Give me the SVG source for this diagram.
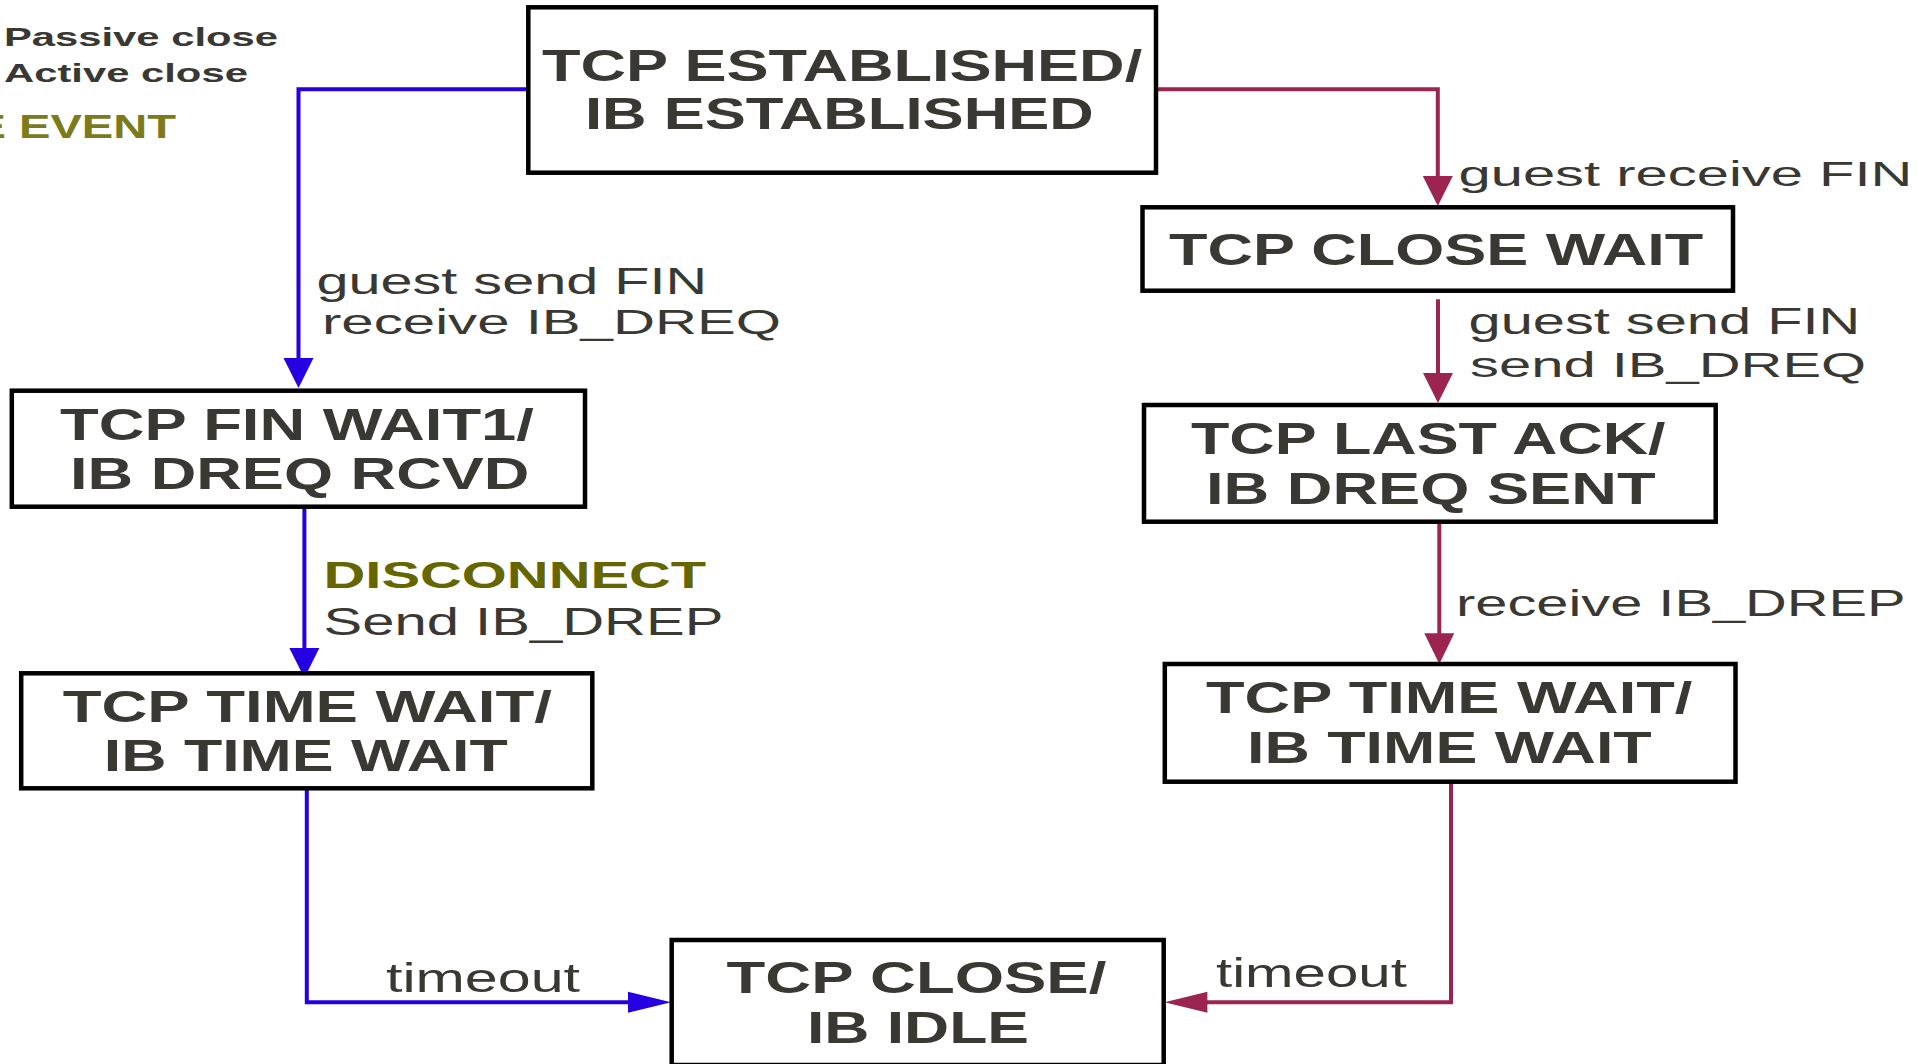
<svg xmlns="http://www.w3.org/2000/svg" width="1918" height="1064" viewBox="0 0 1918 1064">
<style>
.box{fill:#fff;stroke:#000;stroke-width:4.5}
.st{font-family:"Liberation Sans",Arial,sans-serif;font-weight:bold;font-size:44px;fill:#3a3833}
.lb{font-family:"Liberation Sans",Arial,sans-serif;font-size:36px;fill:#3a3833}
.ev{font-family:"Liberation Sans",Arial,sans-serif;font-weight:bold;font-size:37px;fill:#666600}
.lg{font-family:"Liberation Sans",Arial,sans-serif;font-weight:bold;font-size:26.5px;fill:#3a3833}
.blue{fill:none;stroke:#2600e0;stroke-width:4}
.red{fill:none;stroke:#9b2450;stroke-width:4}
.bh{fill:#2600e0}
.rh{fill:#9b2450}
</style>
<rect width="1918" height="1064" fill="#fff"/>
<g id="legend">
<text class="lg" transform="translate(4,45.7) scale(1.576,1)">Passive close</text>
<text class="lg" transform="translate(4,81.7) scale(1.577,1)">Active close</text>
<text class="lg" style="font-size:32.5px;fill:#7b7b1c" transform="translate(-25.5,138) scale(1.45,1)">E EVENT</text>
</g>
<g id="connectors">
<path class="blue" d="M528,89.3 H298.5 V360"/>
<polygon class="bh" points="283.5,358 313.5,358 298.5,388"/>
<path class="blue" d="M304.4,507 V650"/>
<polygon class="bh" points="289.4,648 319.4,648 304.4,678"/>
<path class="blue" d="M306.8,789 V1002.3 H630"/>
<polygon class="bh" points="628,991.8 628,1012.8 671,1002.3"/>
<path class="red" d="M1157,89.3 H1437.8 V178"/>
<polygon class="rh" points="1422.8,176 1452.8,176 1437.8,206"/>
<path class="red" d="M1438,299.3 V375"/>
<polygon class="rh" points="1423,373 1453,373 1438,403"/>
<path class="red" d="M1439.3,523 V635"/>
<polygon class="rh" points="1424.3,633.3 1454.3,633.3 1439.3,664"/>
<path class="red" d="M1451,783 V1002.3 H1205"/>
<polygon class="rh" points="1207.4,991.8 1207.4,1012.8 1164.5,1002.3"/>
</g>
<g id="labels">
<text class="lb" transform="translate(316.5,294.3) scale(1.6,1)">guest send FIN</text>
<text class="lb" transform="translate(322,334.3) scale(1.616,1)">receive IB_DREQ</text>
<text class="lb" style="font-size:35px" transform="translate(1458.5,186) scale(1.655,1)">guest receive FIN</text>
<text class="lb" transform="translate(1468.5,334.3) scale(1.605,1)">guest send FIN</text>
<text class="lb" transform="translate(1470,377) scale(1.61,1)">send IB_DREQ</text>
<text class="lb" style="font-size:37px" transform="translate(1456,616) scale(1.562,1)">receive IB_DREP</text>
<text class="ev" transform="translate(323.5,588.3) scale(1.565,1)">DISCONNECT</text>
<text class="lb" style="font-size:38px" transform="translate(323.5,635) scale(1.527,1)">Send IB_DREP</text>
<text class="lb" style="font-size:40px" transform="translate(386,991.7) scale(1.479,1)">timeout</text>
<text class="lb" style="font-size:40px" transform="translate(1216,986.7) scale(1.456,1)">timeout</text>
</g>
<g id="established">
<rect class="box" x="528.3" y="7.3" width="627.7" height="165.4"/>
<text class="st" transform="translate(542,81) scale(1.433,1)">TCP ESTABLISHED/</text>
<text class="st" transform="translate(585,129.3) scale(1.4,1)">IB ESTABLISHED</text>
</g>
<g id="close-wait">
<rect class="box" x="1142.5" y="207.3" width="590.5" height="83.4"/>
<text class="st" transform="translate(1169,265) scale(1.432,1)">TCP CLOSE WAIT</text>
</g>
<g id="fin-wait1">
<rect class="box" x="11.8" y="390.7" width="573.2" height="116"/>
<text class="st" transform="translate(60,440) scale(1.44,1)">TCP FIN WAIT1/</text>
<text class="st" transform="translate(70,489) scale(1.435,1)">IB DREQ RCVD</text>
</g>
<g id="last-ack">
<rect class="box" x="1144" y="405" width="571.7" height="116.7"/>
<text class="st" transform="translate(1191,454) scale(1.428,1)">TCP LAST ACK/</text>
<text class="st" transform="translate(1206,504) scale(1.437,1)">IB DREQ SENT</text>
</g>
<g id="time-wait-left">
<rect class="box" x="21.2" y="673.3" width="571.1" height="115"/>
<text class="st" transform="translate(62.7,721.7) scale(1.444,1)">TCP TIME WAIT/</text>
<text class="st" transform="translate(103.8,770.7) scale(1.425,1)">IB TIME WAIT</text>
</g>
<g id="time-wait-right">
<rect class="box" x="1164.8" y="664" width="570.7" height="117.7"/>
<text class="st" transform="translate(1206,713.3) scale(1.435,1)">TCP TIME WAIT/</text>
<text class="st" transform="translate(1247,762.7) scale(1.428,1)">IB TIME WAIT</text>
</g>
<g id="close">
<rect class="box" x="671.7" y="940" width="492" height="125"/>
<text class="st" transform="translate(726.6,993.3) scale(1.443,1)">TCP CLOSE/</text>
<text class="st" transform="translate(807,1043.3) scale(1.419,1)">IB IDLE</text>
</g>
</svg>
